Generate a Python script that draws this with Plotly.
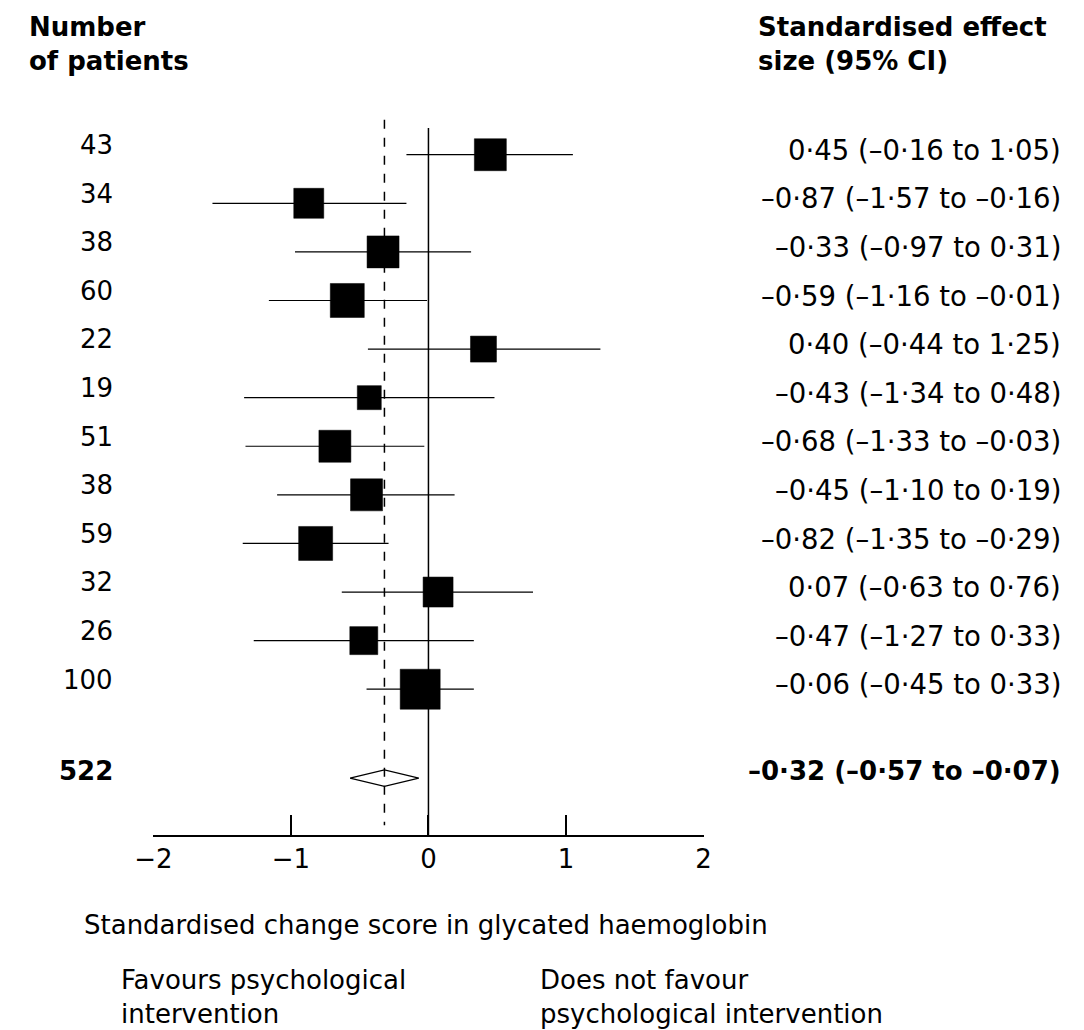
import plotly.graph_objects as go

patients = ["43","34","38","60","22","19","51","38","59","32","26","100"]
est = [0.45,-0.87,-0.33,-0.59,0.40,-0.43,-0.68,-0.45,-0.82,0.07,-0.47,-0.06]
lo = [-0.16,-1.57,-0.97,-1.16,-0.44,-1.34,-1.33,-1.10,-1.35,-0.63,-1.27,-0.45]
hi = [1.05,-0.16,0.31,-0.01,1.25,0.48,-0.03,0.19,-0.29,0.76,0.33,0.33]
labels = ["0·45 (–0·16 to 1·05)","–0·87 (–1·57 to –0·16)","–0·33 (–0·97 to 0·31)",
          "–0·59 (–1·16 to –0·01)","0·40 (–0·44 to 1·25)","–0·43 (–1·34 to 0·48)",
          "–0·68 (–1·33 to –0·03)","–0·45 (–1·10 to 0·19)","–0·82 (–1·35 to –0·29)",
          "0·07 (–0·63 to 0·76)","–0·47 (–1·27 to 0·33)","–0·06 (–0·45 to 0·33)"]
sizes = [32,30,32,34,26,24,32,32,34,30,28,40]
total_n = "522"
pooled = -0.32
pooled_lo = -0.57
pooled_hi = -0.07
pooled_label = "–0·32 (–0·57 to –0·07)"
ticks = [-2,-1,0,1,2]
tick_text = ["−2","−1","0","1","2"]

rows = list(range(len(est)))
ysum = 12.83
F = "DejaVu Sans"
FS = 26
fig = go.Figure()
for i in rows:
    fig.add_trace(go.Scatter(x=[lo[i],hi[i]], y=[i,i], mode="lines",
                             line=dict(color="black", width=1.2), showlegend=False))
fig.add_trace(go.Scatter(x=est, y=rows, mode="markers", showlegend=False,
                         marker=dict(symbol="square", size=sizes, color="#000000", opacity=1,
                                     line=dict(width=0.5, color="#000000"))))
fig.add_trace(go.Scatter(x=[pooled_lo,pooled,pooled_hi,pooled,pooled_lo],
                         y=[ysum,ysum-0.17,ysum,ysum+0.17,ysum], mode="lines", fill="toself",
                         fillcolor="white", line=dict(color="black", width=1.2), showlegend=False))
fig.add_shape(type="line", x0=0, x1=0, y0=-0.55, y1=14, line=dict(color="black", width=1.5))
fig.add_shape(type="line", x0=pooled, x1=pooled, y0=-0.72, y1=13.8,
              line=dict(color="black", width=1.5, dash="dash"))

for i in rows:
    fig.add_annotation(x=0.0837, xref="paper", y=i-0.2, yref="y", text=patients[i], showarrow=False,
                       xanchor="right", font=dict(family=F, size=FS, color="black"))
    fig.add_annotation(x=0.98, xref="paper", y=i-0.1, yref="y", text=labels[i], showarrow=False,
                       xanchor="right", font=dict(family=F, size=27.5, color="black"))
fig.add_annotation(x=0.0837, xref="paper", y=ysum-0.15, yref="y", text="<b>"+total_n+"</b>", showarrow=False,
                   xanchor="right", font=dict(family=F, size=FS, color="black"))
fig.add_annotation(x=0.98, xref="paper", y=ysum-0.15, yref="y", text="<b>"+pooled_label+"</b>", showarrow=False,
                   xanchor="right", font=dict(family=F, size=FS, color="black"))

def ann(x, y, t, bold=False):
    fig.add_annotation(x=x, xref="paper", y=y, yref="paper", text=("<b>%s</b>" % t) if bold else t,
                       showarrow=False, xanchor="left", yanchor="top", align="left",
                       font=dict(family=F, size=FS, color="black"))
ann(0.0, 0.998, "Number<br>of patients", True)
ann(0.690, 0.998, "Standardised effect<br>size (95% CI)", True)
ann(0.0516, 1 - 900/1030, "Standardised change score in glycated haemoglobin")
ann(0.0875, 1 - 955/1030, "Favours psychological<br>intervention")
ann(0.4834, 1 - 955/1030, "Does not favour<br>psychological intervention")

fig.update_layout(width=1084, height=1030, margin=dict(l=0,r=0,t=0,b=0),
                  plot_bgcolor="white", paper_bgcolor="white",
                  xaxis=dict(domain=[0.1195, 0.6401], range=[-2,2], tickvals=ticks, ticktext=tick_text,
                             ticks="inside", ticklen=20, tickwidth=1.5, tickcolor="black", showline=True,
                             linecolor="black", linewidth=1.5, showgrid=False, zeroline=False,
                             tickfont=dict(family=F, size=FS, color="black")),
                  yaxis=dict(domain=[1-827/1030, 1-102/1030], range=[14, -0.92], visible=False, showgrid=False))
fig.write_html("out.html")
